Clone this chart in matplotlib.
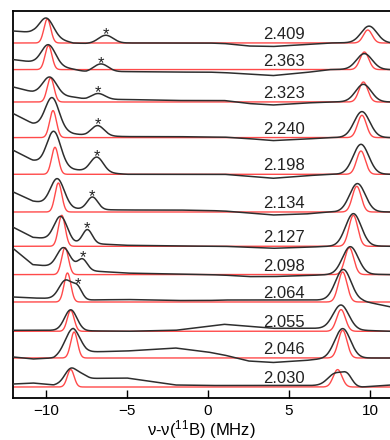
import numpy as np
import matplotlib.pyplot as plt

plt.rcParams['font.family'] = ['Liberation Sans', 'DejaVu Sans']
plt.rcParams['mathtext.default'] = 'regular'

# g-values of the stacked spectra, top to bottom
labels = ['2.409', '2.363', '2.323', '2.240', '2.198', '2.134',
          '2.127', '2.098', '2.064', '2.055', '2.046', '2.030']
# vertical stacking offsets (a.u.)
offsets = [355.3, 328.7, 296.3, 260.7, 224.0, 186.3,
           152.0, 123.7, 96.3, 67.0, 40.3, 11.3]

# red fits: two lines (MHz, a.u.)
red_left_pos = [-9.9, -9.83, -9.7, -9.55, -9.43, -9.22, -9.01, -8.81, -8.66, -8.46, -8.25, -8.46]
red_left_amp = [24, 24, 24, 27, 27, 29, 31, 27, 29, 21, 26, 17.5]
red_right_pos = [9.86, 9.65, 9.59, 9.5, 9.44, 9.18, 8.97, 8.72, 8.31, 8.21, 8.31, 8.0]
red_right_amp = [13, 17.6, 20, 22.3, 23.3, 25.7, 31, 27, 30, 21.7, 27.7, 17.4]

# black data: main lines, the starred line and background
black_left_pos = [-9.95, -9.83, -9.75, -9.6, -9.5, -9.28, -9.07, -8.9, -8.77, -8.46, -8.35, -8.46]
black_left_amp = [18, 20, 17.4, 30.6, 34, 27, 24.4, 20, 18.5, 20.5, 21.7, 13]
black_left_wid = [0.43, 0.43, 0.43, 0.42, 0.42, 0.42, 0.4, 0.4, 0.4, 0.38, 0.45, 0.36]
bump_pos = [-6.3, -6.6, -6.77, -6.8, -6.85, -7.12, -7.43, -7.73, -8.04, 0, 0, -7.8]
bump_amp = [8, 8, 6, 10.3, 15, 12.6, 13.8, 11, 11, 0, 0, 4]
bump_wid = [0.45, 0.45, 0.43, 0.4, 0.4, 0.33, 0.3, 0.3, 0.28, 0.3, 0.3, 0.3]
starred = [True] * 9 + [False] * 3
black_right_pos = [9.94, 9.65, 9.59, 9.5, 9.44, 9.22, 8.97, 8.78, 8.35, 8.21, 8.31, 7.9]
black_right_amp = [16.5, 15.5, 17.2, 25.5, 29.5, 28, 32.3, 27.6, 31, 24, 29.4, 12.5]
shoulder_pos = [0, 0, 0, 0, 0, 0, 0, 0, 0, 0, 0, 8.6]
shoulder_amp = [0, 0, 0, 0, 0, 0, 0, 0, 0, 0, 0, 9]

bg_x = [-12, -10.8, -9.5, -8.3, -7.5, -5, -2, 0, 1, 2.5, 4, 6, 7.5, 9.5, 11.3]
bg_y = [
    [12, 10.5, 5, 0, -0.5, 0, 0, 0, -0.5, -3, -3.5, -1.5, 0, 0.5, 0],
    [10, 7.5, 4, 0.5, -2.5, -2, -2.5, -2.5, -3, -4.5, -6, -3, 0, 0.5, 0],
    [15, 10, 7, 5, 2.5, 2.5, 1.5, 1.5, 1.5, -1.5, -3, -1, 0, 0.5, 0],
    [24, 14, 9, 4, 2, 1, 1, 0.5, 0.5, -1, -3, -1.5, 0, 0.5, 0],
    [24, 14, 9, 5, 3, 0, 0, 0, 0, -2, -4, -1.5, 0, 0.5, 0],
    [20, 11, 7, 3.5, 2.5, 2, 2, 1.5, 1, -1, -3, -2, 0, 0.5, 0],
    [19, 9, 7, 3, 3, 1, 0.5, 0, 0, -1, -2, -1, 0, 0.5, 0],
    [26, 10, 8, 6, 4, 1.5, 0.5, 0, -0.5, -2, -2, -1, 0, 0.5, 0],
    [5, 4, 3.5, 3, 2, 2.5, 1.5, 1.5, 2, 2, 2, 2, 2, 1, -5],
    [1, 1, 1, 1, 0.5, 0, 1, 5, 7, 5, 3, 3, 3, 1, 0],
    [1, -1, 0, 8, 6, 7, 10, 6, 3, -3, -4.5, -2.5, 0, 0, 0],
    [3, 4, 2, 6, 8.5, 9, 2, 1.5, 1.5, 1.5, 1.5, 1.5, 1.5, 0, 2],
]


def gauss(x, x0, a, w):
    return a * np.exp(-(x - x0) ** 2 / (2 * w ** 2))


x = np.linspace(-12, 11.3, 1500)

fig = plt.figure(figsize=(3.9, 4.4), dpi=100)
ax = fig.add_axes([13.3 / 390, 1 - 398.3 / 440, 1 - 13.3 / 390, (398.3 - 10.7) / 440])

for i, lab in enumerate(labels):
    fit = (offsets[i] + gauss(x, red_left_pos[i], red_left_amp[i], 0.21)
           + gauss(x, red_right_pos[i], red_right_amp[i], 0.27))
    data = (offsets[i] + np.interp(x, bg_x, bg_y[i])
            + gauss(x, black_left_pos[i], black_left_amp[i], black_left_wid[i])
            + gauss(x, bump_pos[i], bump_amp[i], bump_wid[i])
            + gauss(x, black_right_pos[i], black_right_amp[i], 0.48)
            + gauss(x, shoulder_pos[i], shoulder_amp[i], 0.3))
    ax.plot(x, fit, color='#ff4a4a', lw=1.0, zorder=2)
    ax.plot(x, data, color='#2e2e2e', lw=1.1, zorder=3)
    ax.text(3.43, offsets[i] + 4, lab, fontsize=12, color='#222222',
            ha='left', va='baseline')
    if starred[i]:
        top = np.interp(bump_pos[i], x, data)
        ax.text(bump_pos[i], top - 3.8, '*', fontsize=12, color='#222222',
                ha='center', va='baseline')

ax.set_xlim(-12, 11.23)
ax.set_ylim(0, 387.6)
ax.set_xticks([-10, -5, 0, 5, 10])
ax.set_yticks([])
ax.tick_params(axis='x', direction='in', length=6, width=1, labelsize=11, pad=4)
ax.spines['right'].set_visible(False)
for s in ['left', 'top', 'bottom']:
    ax.spines[s].set_linewidth(1.3)
ax.set_xlabel(r'ν-ν($^{11}$B) (MHz)', fontsize=12, labelpad=0)

fig.savefig('out.png', dpi=100)
